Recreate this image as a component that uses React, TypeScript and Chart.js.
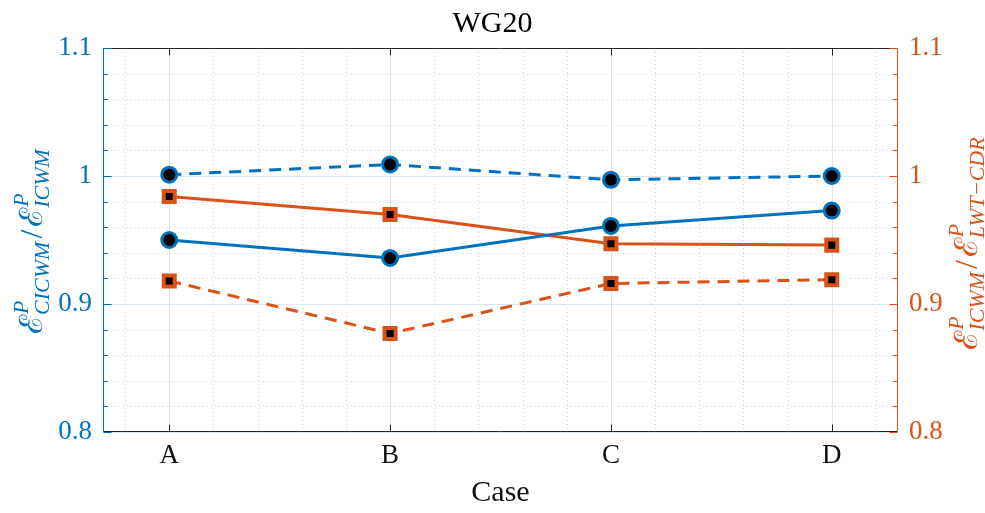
import React, { useEffect, useRef } from 'react';
import { Chart, registerables } from 'chart.js';

Chart.register(...registerables);

// ---------- data ----------
const categories = ['A', 'B', 'C', 'D'];
const xPositions = [1, 2, 3, 4];
const leftSolid = [0.950, 0.936, 0.961, 0.973];
const leftDashed = [1.001, 1.009, 0.997, 1.000];
const rightSolid = [0.984, 0.970, 0.947, 0.946];
const rightDashed = [0.918, 0.877, 0.916, 0.919];
const yTickValues = [0.8, 0.9, 1.0, 1.1];
const yTickLabels = ['0.8', '0.9', '1', '1.1'];
const titleText = 'WG20';
const xTitle = 'Case';

const BLUE = '#0072BD';
const ORANGE = '#D95319';
const AXIS = '#262626';
const SERIF = "'Liberation Serif', 'DejaVu Serif', serif";

const points = (vals: number[]) => xPositions.map((x, i) => ({ x, y: vals[i] }));

type Part = { t: string; sup?: string; sub?: string };

function drawMath(ctx: CanvasRenderingContext2D, cx: number, cy: number, parts: Part[], color: string) {
  const mainFont = `32px ${SERIF}`;
  const scriptFont = `italic 22px ${SERIF}`;
  const widths: number[] = [];
  let total = 0;
  for (const p of parts) {
    ctx.font = mainFont;
    let w = ctx.measureText(p.t).width;
    ctx.font = scriptFont;
    const sw = Math.max(p.sup ? ctx.measureText(p.sup).width : 0, p.sub ? ctx.measureText(p.sub).width : 0);
    w += sw + 3;
    widths.push(w);
    total += w;
  }
  ctx.save();
  ctx.translate(cx, cy);
  ctx.rotate(-Math.PI / 2);
  ctx.fillStyle = color;
  ctx.textBaseline = 'alphabetic';
  ctx.textAlign = 'left';
  let xx = -total / 2;
  parts.forEach((p, i) => {
    ctx.font = mainFont;
    ctx.fillText(p.t, xx, 0);
    const mw = ctx.measureText(p.t).width;
    ctx.font = scriptFont;
    if (p.sup) ctx.fillText(p.sup, xx + mw + 1, -14);
    if (p.sub) ctx.fillText(p.sub, xx + mw, 7);
    xx += widths[i];
  });
  ctx.restore();
}

const matlabPlugin = {
  id: 'matlabAxes',
  beforeDatasetsDraw(chart: any) {
    const { ctx, chartArea: a, scales } = chart;
    const xs = scales.x;
    const ys = scales.y;
    ctx.save();
    ctx.lineWidth = 1;
    // minor vertical (every 0.2)
    ctx.setLineDash([1, 3]);
    ctx.strokeStyle = '#d2d2d2';
    for (let k = 4; k <= 21; k++) {
      const v = k * 0.2;
      if (Math.abs(v - Math.round(v)) < 1e-6) continue;
      const px = Math.round(xs.getPixelForValue(v)) + 0.5;
      ctx.beginPath();
      ctx.moveTo(px, a.top);
      ctx.lineTo(px, a.bottom);
      ctx.stroke();
    }
    // minor horizontal (every 0.02)
    ctx.strokeStyle = '#c9dbea';
    for (let k = 41; k <= 54; k++) {
      if (k % 5 === 0) continue;
      const v = k * 0.02;
      const py = Math.round(ys.getPixelForValue(v)) + 0.5;
      ctx.beginPath();
      ctx.moveTo(a.left, py);
      ctx.lineTo(a.right, py);
      ctx.stroke();
    }
    ctx.setLineDash([]);
    // major vertical
    ctx.strokeStyle = '#e2e2e2';
    for (const v of xPositions) {
      const px = Math.round(xs.getPixelForValue(v)) + 0.5;
      ctx.beginPath();
      ctx.moveTo(px, a.top);
      ctx.lineTo(px, a.bottom);
      ctx.stroke();
    }
    // major horizontal
    ctx.strokeStyle = '#d8e7f3';
    for (const v of yTickValues) {
      const py = Math.round(ys.getPixelForValue(v)) + 0.5;
      ctx.beginPath();
      ctx.moveTo(a.left, py);
      ctx.lineTo(a.right, py);
      ctx.stroke();
    }
    ctx.restore();
  },
  afterDraw(chart: any) {
    const { ctx, chartArea: a, scales } = chart;
    const xs = scales.x;
    const ys = scales.y;
    const L = a.left + 0.5, R = a.right - 0.5, T = a.top + 0.5, B = a.bottom - 0.5;
    ctx.save();
    ctx.lineWidth = 1;
    // top & bottom spines with ticks
    ctx.strokeStyle = AXIS;
    ctx.beginPath();
    ctx.moveTo(L, T); ctx.lineTo(R, T);
    ctx.moveTo(L, B); ctx.lineTo(R, B);
    for (const v of xPositions) {
      const px = Math.round(xs.getPixelForValue(v)) + 0.5;
      ctx.moveTo(px, B); ctx.lineTo(px, B - 7);
      ctx.moveTo(px, T); ctx.lineTo(px, T + 7);
    }
    ctx.stroke();
    // left / right spines with major+minor ticks
    const side = (x0: number, dir: number, color: string) => {
      ctx.strokeStyle = color;
      ctx.beginPath();
      ctx.moveTo(x0, T); ctx.lineTo(x0, B);
      for (let k = 40; k <= 55; k++) {
        const v = k * 0.02;
        const py = Math.round(ys.getPixelForValue(v)) + 0.5;
        const len = k % 5 === 0 ? 8 : 4.5;
        ctx.moveTo(x0, py); ctx.lineTo(x0 + dir * len, py);
      }
      ctx.stroke();
    };
    side(L, 1, BLUE);
    side(R, -1, ORANGE);
    ctx.restore();

    drawMath(ctx, 42, 240, [
      { t: 'ℰ', sup: 'P', sub: 'CICWM' },
      { t: '/' },
      { t: 'ℰ', sup: 'P', sub: 'ICWM' },
    ], BLUE);
    drawMath(ctx, 977, 242, [
      { t: 'ℰ', sup: 'P', sub: 'ICWM' },
      { t: '/' },
      { t: 'ℰ', sup: 'P', sub: 'LWT−CDR' },
    ], ORANGE);
  },
};

export default function App() {
  const ref = useRef<HTMLCanvasElement>(null);
  useEffect(() => {
    if (!ref.current) return;
    const lineDs = (label: string, vals: number[], color: string, dashed: boolean, axis: string, style: string) => ({
      label,
      data: points(vals),
      yAxisID: axis,
      borderColor: color,
      backgroundColor: color,
      borderWidth: 3,
      borderDash: dashed ? [12, 8] : [],
      pointStyle: style,
      pointRadius: style === 'circle' ? 7.5 : 7.8,
      pointBorderWidth: style === 'circle' ? 3 : 4,
      pointBackgroundColor: '#000',
      pointBorderColor: color,
      tension: 0,
      clip: false,
    });
    const chart = new Chart(ref.current, {
      type: 'line',
      data: {
        datasets: [
          lineDs('CICWM solid', leftSolid, BLUE, false, 'y', 'circle'),
          lineDs('CICWM dashed', leftDashed, BLUE, true, 'y', 'circle'),
          lineDs('LWT solid', rightSolid, ORANGE, false, 'y1', 'rect'),
          lineDs('LWT dashed', rightDashed, ORANGE, true, 'y1', 'rect'),
        ] as any,
      },
      options: {
        animation: false,
        responsive: false,
        devicePixelRatio: 1,
        layout: { padding: 0 },
        plugins: {
          legend: { display: false },
          tooltip: { enabled: false },
          title: {
            display: true,
            text: titleText,
            color: '#000',
            font: { family: SERIF, size: 30, weight: 'normal' },
            padding: { top: 6, bottom: 6 },
          },
        },
        scales: {
          x: {
            type: 'linear',
            position: 'bottom',
            min: 0.7,
            max: 4.3,
            grid: { display: false, drawTicks: false },
            border: { display: false },
            afterBuildTicks: (s: any) => { s.ticks = xPositions.map((v) => ({ value: v })); },
            afterFit: (s: any) => { s.height = 81; },
            ticks: {
              autoSkip: false,
              maxRotation: 0,
              padding: 8,
              color: '#111',
              font: { family: SERIF, size: 27 },
              callback: (v: any) => categories[xPositions.indexOf(Number(v))] ?? '',
            },
            title: {
              display: true,
              text: xTitle,
              color: '#111',
              font: { family: SERIF, size: 30 },
              padding: { top: 0, bottom: 2 },
            },
          },
          y: {
            type: 'linear',
            position: 'left',
            min: 0.8,
            max: 1.1,
            grid: { display: false, drawTicks: false },
            border: { display: false },
            afterBuildTicks: (s: any) => { s.ticks = yTickValues.map((v) => ({ value: v })); },
            afterFit: (s: any) => { s.width = 103; },
            ticks: {
              padding: 11,
              color: BLUE,
              font: { family: SERIF, size: 27 },
              callback: (v: any) => yTickLabels[yTickValues.findIndex((t) => Math.abs(t - Number(v)) < 1e-6)] ?? '',
            },
          },
          y1: {
            type: 'linear',
            position: 'right',
            min: 0.8,
            max: 1.1,
            grid: { display: false, drawTicks: false },
            border: { display: false },
            afterBuildTicks: (s: any) => { s.ticks = yTickValues.map((v) => ({ value: v })); },
            afterFit: (s: any) => { s.width = 87; },
            ticks: {
              padding: 11,
              color: ORANGE,
              font: { family: SERIF, size: 27 },
              callback: (v: any) => yTickLabels[yTickValues.findIndex((t) => Math.abs(t - Number(v)) < 1e-6)] ?? '',
            },
          },
        },
      } as any,
      plugins: [matlabPlugin],
    });
    return () => chart.destroy();
  }, []);

  return (
    <div style={{ position: 'absolute', left: 0, top: 0, width: 985, height: 513, background: '#fff' }}>
      <canvas ref={ref} width={985} height={513} style={{ display: 'block' }} />
    </div>
  );
}
